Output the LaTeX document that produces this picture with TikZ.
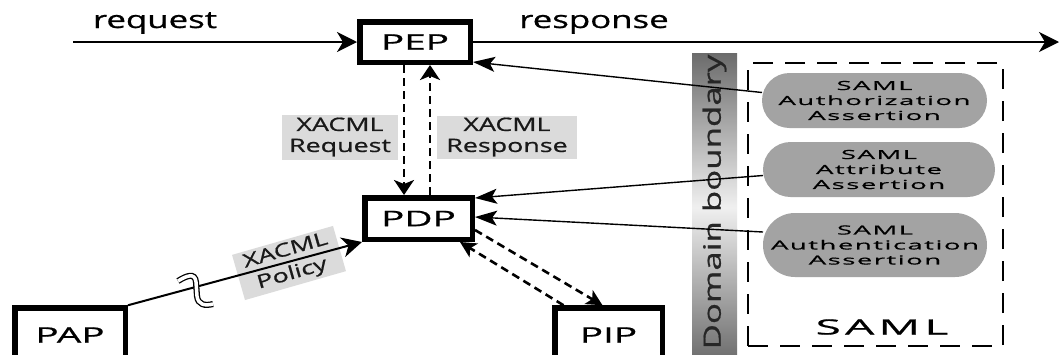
\documentclass[tikz,border=0pt]{standalone}
\usepackage{fontspec}
\setmainfont{Open Sans}[FakeStretch=1.45,FakeBold=0.8]
\newfontfamily\boxfont{Open Sans}[FakeStretch=1.8,FakeBold=0.8]
\newfontfamily\widefont{Open Sans}[FakeStretch=2.2,LetterSpace=12,FakeBold=0.6]
\newfontfamily\samlbig{Open Sans}[FakeStretch=2.2,LetterSpace=20,FakeBold=0.8]
\usetikzlibrary{arrows.meta,shapes.misc}
\begin{document}
\begin{tikzpicture}[x=1pt,y=-1pt,
  every node/.style={inner sep=0pt, outer sep=0pt},
  box/.style={draw, line width=5.5pt, outer sep=2.75pt, font=\boxfont\fontsize{21.5}{26}\selectfont, minimum height=40.5pt},
  lbl/.style={fill=black!14, align=center, text=black!90, font=\fontsize{18.5}{21}\selectfont},
  saml/.style={shape=rounded rectangle, fill=black!36, align=center, text=black, font=\widefont\fontsize{12.5}{15}\selectfont},
  bigtext/.style={font=\fontsize{24}{28}\selectfont},
  flow/.style={line width=2pt, -{Stealth[length=20pt,width=20pt,inset=6pt]}},
  ptr/.style={line width=1.4pt, -{Stealth[length=22pt,width=15pt,inset=5pt]}},
  dsh/.style={line width=2.6pt, dash pattern=on 8pt off 5pt, -{Stealth[length=15pt,width=20pt,inset=4pt]}},
  dshd/.style={line width=2.6pt, dash pattern=on 8pt off 5pt, -{Stealth[length=16pt,width=16pt,inset=4pt]}},
  brk/.style={line width=1.3pt, double=white, double distance=3.5pt},
]
\useasboundingbox (0,0) rectangle (1061,354);
\fill[white] (0,0) rectangle (1061,354);

% domain boundary bar
\shade[top color=black!58, bottom color=black!58, middle color=black!6] (692,53) rectangle (737,362);
\node[rotate=90, bigtext, text=black!85] (dom) at (714.5,202) {Domain boundary};

% SAML container
\node[draw, line width=2.5pt, dash pattern=on 20pt off 12pt, minimum width=255pt, minimum height=283pt] (samlbox) at (875.5,204.5) {};
\node[font=\samlbig\fontsize{21}{24}\selectfont] (samllbl) at (882,327) {SAML};

% assertions
\node[saml, minimum width=225pt, minimum height=55pt] (authz) at (874.5,100.5) {SAML\\Authorization\\Assertion};
\node[saml, minimum width=232pt, minimum height=55pt] (attr) at (879,169.5) {SAML\\Attribute\\Assertion};
\node[saml, minimum width=224pt, minimum height=64pt] (authn) at (875,245) {SAML\\Authentication\\Assertion};

% main boxes
\node[box, minimum width=110.5pt] (pep) at (415,42) {PEP};
\node[box, minimum width=107.5pt, minimum height=41.5pt] (pdp) at (418.5,218.5) {PDP};
\node[box, minimum width=110.5pt, minimum height=54pt] (pap) at (70,335) {PAP};
\node[box, minimum width=107.5pt, minimum height=54pt] (pip) at (608.5,335) {PIP};

% request / response
\coordinate (rq) at (73,42);
\coordinate (rs) at (1059,42);
\draw[flow] (rq) -- (pep.west);
\draw[flow] (pep.east) -- (rs);
\node[anchor=base, bigtext] (reqt) at (155,28) {request};
\node[anchor=base, bigtext] (rest) at (594,28) {response};

% XACML request/response
\node[lbl, minimum width=116pt, minimum height=45pt] (lreq) at (340,137) {XACML\\Request};
\node[lbl, minimum width=140pt, minimum height=43pt] (lres) at (507,137) {XACML\\Response};
\coordinate (xa) at (404,0);
\coordinate (xb) at (430,0);
\draw[dsh] (pep.south -| xa) -- (pdp.north -| xa);
\draw[dsh] (pdp.north -| xb) -- (pep.south -| xb);

% assertion arrows
\draw[ptr] ([yshift=8pt]authz.west) -- ([yshift=-20pt]pep.east);
\draw[ptr] ([yshift=-6pt]attr.west) -- ([yshift=-3pt]pdp.north east);
\draw[ptr] ([yshift=13pt]authn.west) -- ([yshift=1.5pt]pdp.east);

% policy
\node[lbl, rotate=16, minimum width=105pt, minimum height=47pt, font=\fontsize{18.5}{24}\selectfont] (lpol) at (289,263) {XACML\\Policy};
\draw[flow] (pap.north east) -- (pdp.south west);
\draw[brk] (178,281) .. controls (186,276) and (195,272) .. (196,282) -- (197,296) .. controls (198,305) and (205,306) .. (213,304);

% PDP <-> PIP
\draw[dshd] ([yshift=-11.5pt]pdp.east) -- ([xshift=-6pt]pip.north);
\draw[dshd] ([xshift=-45pt]pip.north) -- ([xshift=-15pt]pdp.south east);
\end{tikzpicture}
\end{document}
